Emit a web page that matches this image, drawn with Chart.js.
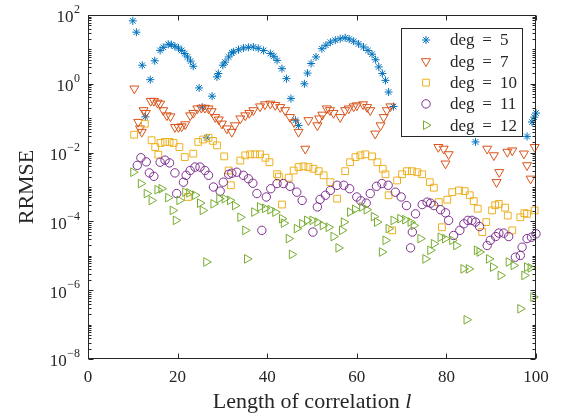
<!DOCTYPE html>
<html>
<head>
<meta charset="utf-8">
<script src="https://cdn.jsdelivr.net/npm/chart.js@4.4.1/dist/chart.umd.min.js"></script>
<style>
  html, body { margin: 0; padding: 0; background: #fff; }
</style>
</head>
<body>
<canvas id="chart" width="565" height="419"></canvas>
<script>
// valores (y guardado como expoente de 10)
const deg5X = [10, 10.8, 12.1, 12.8, 13.9, 14.9, 16.1, 16.8, 17.9, 18.6, 19.4, 20.2, 20.9, 21.6, 22.2, 22.9, 23.5,
  24.8, 25.5, 26.5, 27.7, 28.8, 29.1, 30.1, 30.6, 31.4, 32.1, 32.5, 33.6, 34.7, 35.8, 36.9, 38.0, 39.2, 40.7, 41.5,
  42.2, 43.3, 44.3, 45.3, 46.3, 47.0, 48.3, 49.0, 49.8, 50.9, 52.2, 53.1, 54.1, 55.2, 56.3, 57.4, 58.3, 59.3, 60.4,
  61.5, 62.5, 63.4, 64.2, 64.9, 65.7, 66.4, 67.1, 68.2, 86.5, 98.0, 99.1, 99.6, 100];
const deg5Exp = [1.83, 1.50, 0.54, -0.96, 0.12, 0.67, 0.97, 1.06, 1.15, 1.14, 1.09, 1.04, 0.97, 0.88, 0.78, 0.66, 0.51,
  -0.12, -0.68, -1.57, -0.36, 0.20, 0.30, 0.54, 0.63, 0.78, 0.90, 0.93, 0.99, 1.04, 1.06, 1.07, 1.03, 0.97, 0.88, 0.80,
  0.68, 0.44, 0.15, -0.43, -1.06, -1.21, 0.0, 0.31, 0.59, 0.78, 1.02, 1.12, 1.21, 1.27, 1.31, 1.34, 1.30, 1.24, 1.16,
  1.07, 0.97, 0.86, 0.70, 0.49, 0.30, 0.10, -0.24, -0.66, -1.69, -1.53, -1.11, -0.97, -0.85];

const deg7X = [10.35, 11.2, 11.6, 12.0, 12.4, 12.9, 14.0, 14.7, 15.5, 16.1, 16.8, 17.6, 18.4, 19.4, 20.2, 20.9, 21.7,
  22.8, 23.5, 24.4, 25.3, 26.1, 26.9, 27.6, 28.4, 29.2, 29.9, 31.0, 32.1, 32.8, 34.0, 35.1, 36.0, 36.9, 38.4, 39.5,
  40.7, 41.8, 42.9, 44.0, 45.1, 46.0, 47.0, 48.5, 49.2, 51.2, 51.6, 52.3, 53.3, 54.0, 54.8, 56.3, 57.4, 58.2, 59.3,
  60.0, 61.4, 62.3, 63.0, 64.1, 65.3, 66.0, 66.7, 67.5, 78.2, 79.4, 79.8, 80.5, 89.1, 90.6, 91.2, 91.8, 93.6, 94.7,
  97.3, 98.0, 98.8, 99.7];
const deg7Exp = [-0.14, -1.11, -1.30, -1.40, -0.77, -0.85, -0.50, -0.50, -0.55, -0.58, -0.77, -0.92, -0.95, -1.26, -1.26,
  -1.24, -1.18, -0.92, -0.85, -0.72, -0.70, -0.70, -0.72, -0.80, -0.97, -1.04, -1.16, -1.30, -1.40, -1.21, -1.01, -0.92,
  -0.85, -0.77, -0.66, -0.60, -0.58, -0.62, -0.68, -0.77, -0.97, -1.12, -1.40, -1.89, -1.06, -1.21, -1.01, -0.90, -0.72,
  -0.77, -0.85, -0.97, -0.77, -0.72, -0.66, -0.63, -0.60, -0.68, -0.77, -1.45, -1.21, -0.97, -0.77, -0.66, -1.84, -1.89,
  -2.32, -2.05, -1.89, -2.08, -2.86, -2.57, -1.98, -1.94, -2.03, -2.37, -2.76, -1.84];

const deg10X = [10.3, 12.7, 14.2, 15.0, 15.7, 16.2, 17.2, 18.2, 19.1, 20.4, 21.6, 22.3, 23.5, 24.6, 25.7, 26.9, 27.9,
  28.8, 30.4, 31.4, 31.9, 34.0, 35.1, 36.2, 37.3, 38.4, 39.6, 40.5, 42.2, 42.6, 43.3, 44.8, 45.9, 47.0, 48.1, 49.2,
  50.3, 51.5, 52.6, 54.1, 55.6, 57.4, 58.5, 59.7, 60.8, 61.9, 63.4, 64.6, 65.8, 66.4, 67.1, 67.9, 69.0, 70.1, 71.2,
  72.3, 73.5, 74.6, 76.3, 77.2, 78.3, 79.0, 80.2, 81.3, 82.8, 84.1, 85.2, 86.1, 87.0, 88.0, 88.9, 90.2, 90.9, 91.7,
  93.1, 93.7, 94.7, 96.5, 97.4, 98.0, 99.7];
const deg10Exp = [-1.48, -1.16, -1.64, -1.84, -2.06, -1.72, -1.69, -1.69, -1.72, -1.84, -2.13, -3.29, -2.03, -1.69, -1.62,
  -1.57, -1.66, -1.79, -2.11, -2.52, -2.95, -2.23, -2.08, -2.05, -2.05, -2.05, -2.15, -2.28, -2.63, -2.70, -3.51, -2.73,
  -2.52, -2.42, -2.40, -2.42, -2.47, -2.54, -2.66, -2.86, -3.34, -2.54, -2.28, -2.13, -2.08, -2.05, -2.11, -2.28, -2.47,
  -2.63, -3.24, -4.26, -2.81, -2.63, -2.54, -2.54, -2.57, -2.63, -2.86, -3.02, -3.44, -4.17, -3.37, -3.15, -3.10, -3.12,
  -3.24, -3.41, -3.63, -4.31, -4.02, -3.68, -3.53, -3.49, -3.60, -3.83, -4.26, -3.88, -3.76, -3.78, -3.68];

const deg11X = [11.0, 11.8, 13.0, 13.7, 14.7, 16.1, 17.2, 18.2, 19.4, 19.8, 21.3, 21.9, 22.8, 23.9, 25.0, 26.1, 26.9,
  28.0, 29.5, 30.2, 31.4, 32.1, 33.2, 34.7, 35.8, 36.8, 37.7, 38.8, 39.8, 40.8, 42.2, 43.6, 45.1, 46.6, 47.8, 50.2,
  51.2, 51.8, 53.0, 54.1, 55.6, 57.1, 58.4, 60.0, 60.9, 62.1, 63.0, 64.4, 65.6, 67.0, 68.6, 69.9, 71.1, 72.0, 72.4,
  73.1, 74.6, 75.7, 76.5, 77.2, 78.7, 79.8, 80.5, 81.6, 83.0, 83.9, 84.8, 85.7, 86.5, 87.4, 89.1, 89.8, 91.0, 91.7,
  92.8, 93.9, 95.4, 96.5, 96.9, 98.0, 99.0, 100];
const deg11Exp = [-2.37, -2.15, -2.27, -2.59, -2.69, -2.28, -2.22, -2.30, -2.59, -3.19, -2.86, -2.66, -2.52, -2.42, -2.42,
  -2.52, -2.66, -3.00, -3.12, -2.86, -2.63, -2.60, -2.57, -2.66, -2.76, -2.89, -3.19, -4.26, -3.29, -3.05, -2.90, -2.90,
  -2.98, -3.15, -3.39, -4.31, -3.58, -3.36, -3.24, -3.10, -2.95, -2.95, -3.05, -3.29, -3.40, -3.47, -3.19, -2.98, -2.90,
  -2.95, -3.15, -3.29, -3.54, -4.77, -4.31, -3.78, -3.51, -3.44, -3.47, -3.54, -3.66, -3.75, -3.97, -4.41, -4.26, -4.07,
  -3.97, -3.97, -4.02, -4.15, -4.70, -4.55, -4.44, -4.34, -4.34, -4.44, -5.04, -4.99, -4.75, -4.50, -4.46, -4.36];

const deg12X = [10.1, 11.8, 13.1, 14.2, 15.5, 16.4, 17.9, 18.9, 19.6, 20.4, 21.7, 22.6, 23.9, 25.0, 25.6, 26.4, 28.0,
  29.3, 30.5, 31.7, 32.8, 34.0, 35.1, 35.5, 37.1, 38.4, 39.5, 40.7, 41.8, 43.3, 43.7, 44.8, 45.5, 46.6, 47.8, 48.9,
  50.1, 51.2, 52.4, 53.7, 54.8, 55.9, 56.7, 57.1, 58.5, 59.6, 61.2, 62.2, 63.8, 64.5, 65.6, 66.4, 67.1, 68.2, 69.7,
  70.8, 72.0, 72.7, 74.2, 75.3, 76.4, 77.2, 78.7, 79.7, 81.3, 82.2, 83.8, 84.5, 85.0, 86.8, 87.4, 89.5, 90.4, 92.1,
  93.9, 95.0, 96.5, 97.4, 98.0, 98.8, 99.4];
const deg12Exp = [-2.57, -2.90, -3.19, -3.39, -3.08, -3.05, -3.31, -3.68, -3.97, -3.39, -3.15, -3.17, -3.24, -3.47, -3.68,
  -5.18, -3.49, -3.34, -3.34, -3.39, -3.54, -3.88, -4.26, -5.09, -3.73, -3.58, -3.62, -3.66, -3.73, -3.92, -4.05, -4.50,
  -4.96, -4.21, -4.07, -3.97, -3.97, -4.02, -4.12, -4.17, -4.44, -4.77, -4.26, -4.02, -3.73, -3.65, -3.58, -3.66, -3.86,
  -4.02, -4.89, -4.55, -4.21, -3.97, -3.92, -3.95, -4.02, -4.12, -4.50, -5.09, -4.84, -4.65, -4.46, -4.50, -4.55, -4.70,
  -5.38, -6.86, -5.38, -4.84, -4.89, -5.09, -5.33, -5.57, -5.18, -5.28, -6.54, -5.57, -5.33, -5.35, -6.20];

const seriesLabels = ['deg = 5', 'deg = 7', 'deg = 10', 'deg = 11', 'deg = 12'];
const xTicks = [0, 20, 40, 60, 80, 100];
const yTickExps = [-8, -6, -4, -2, 0, 2];

const axisColor = '#262626';
const serif = '"Liberation Serif", "DejaVu Serif", serif';

// estilos de marcador estilo MATLAB
const markers = [
  { color: '#0072BD', style: 'star', radius: 4, rotation: 0 },
  { color: '#D95319', style: 'triangle', radius: 5.2, rotation: 180 },
  { color: '#EDB120', style: 'rect', radius: 4.8, rotation: 0 },
  { color: '#7E2F8E', style: 'circle', radius: 4.2, rotation: 0 },
  { color: '#77AC30', style: 'triangle', radius: 5, rotation: 90 }
];

function toPoints(xs, exps) {
  return xs.map((x, i) => ({ x: x, y: Math.pow(10, exps[i]) }));
}

const allData = [
  toPoints(deg5X, deg5Exp),
  toPoints(deg7X, deg7Exp),
  toPoints(deg10X, deg10Exp),
  toPoints(deg11X, deg11Exp),
  toPoints(deg12X, deg12Exp)
];

const datasets = allData.map((pts, i) => ({
  label: seriesLabels[i],
  data: pts,
  showLine: false,
  clip: false,
  order: 5 - i, // ultima serie por cima, como no MATLAB
  pointStyle: markers[i].style,
  pointRadius: markers[i].radius,
  pointRotation: markers[i].rotation,
  pointBorderColor: markers[i].color,
  pointBackgroundColor: 'rgba(0,0,0,0)',
  pointBorderWidth: 1
}));

// eixos, ticks, rótulos e legenda desenhados à mão
const axesPlugin = {
  id: 'axesPlugin',
  afterDraw(chart) {
    const ctx = chart.ctx;
    const a = chart.chartArea;
    const xs = chart.scales.x;
    const ys = chart.scales.y;
    const L = Math.round(a.left) + 0.5, R = Math.round(a.right) - 0.5;
    const T = Math.round(a.top) + 0.5, B = Math.round(a.bottom) - 0.5;

    ctx.save();
    ctx.strokeStyle = axisColor;
    ctx.lineWidth = 1;
    ctx.strokeRect(L, T, R - L, B - T);

    ctx.beginPath();
    xTicks.forEach(v => {
      const px = Math.round(xs.getPixelForValue(v)) + 0.5;
      ctx.moveTo(px, B); ctx.lineTo(px, B - 5);
      ctx.moveTo(px, T); ctx.lineTo(px, T + 5);
    });
    for (let e = -8; e < 2; e++) {
      for (let k = 1; k <= 9; k++) {
        const py = Math.round(ys.getPixelForValue(k * Math.pow(10, e))) + 0.5;
        const len = (k === 1 && e % 2 === 0) ? 5 : 3;
        ctx.moveTo(L, py); ctx.lineTo(L + len, py);
        ctx.moveTo(R, py); ctx.lineTo(R - len, py);
      }
    }
    ctx.stroke();

    // rótulos do eixo x
    ctx.fillStyle = axisColor;
    ctx.font = '17px ' + serif;
    ctx.textAlign = 'center';
    ctx.textBaseline = 'middle';
    xTicks.forEach(v => ctx.fillText(String(v), xs.getPixelForValue(v), a.bottom + 19));

    // rótulos do eixo y: 10 com expoente
    yTickExps.forEach(e => {
      const py = ys.getPixelForValue(Math.pow(10, e));
      const expText = e < 0 ? '\u2212' + Math.abs(e) : String(e);
      ctx.font = '12px ' + serif;
      ctx.textAlign = 'right';
      ctx.fillText(expText, 80, py - 5);
      const w = ctx.measureText(expText).width;
      ctx.font = '17px ' + serif;
      ctx.fillText('10', 80 - w - 0.5, py + 3);
    });

    // títulos
    const title = 'Length of correlation ';
    ctx.font = '22px ' + serif;
    const w1 = ctx.measureText(title).width;
    ctx.font = 'italic 22px ' + serif;
    const w2 = ctx.measureText('l').width;
    const cx = (a.left + a.right) / 2;
    ctx.textAlign = 'left';
    ctx.font = '22px ' + serif;
    ctx.fillText(title, cx - (w1 + w2) / 2, a.bottom + 43);
    ctx.font = 'italic 22px ' + serif;
    ctx.fillText('l', cx - (w1 + w2) / 2 + w1, a.bottom + 43);

    ctx.save();
    ctx.translate(27, (a.top + a.bottom) / 2);
    ctx.rotate(-Math.PI / 2);
    ctx.textAlign = 'center';
    ctx.font = '22px ' + serif;
    ctx.fillText('RRMSE', 0, 0);
    ctx.restore();

    // legenda
    ctx.fillStyle = '#ffffff';
    ctx.fillRect(401.5, 28.5, 121, 108);
    ctx.strokeStyle = axisColor;
    ctx.strokeRect(401.5, 28.5, 121, 108);
    seriesLabels.forEach((lab, i) => {
      const y = 40 + i * 21.3;
      ctx.strokeStyle = markers[i].color;
      ctx.fillStyle = 'rgba(0,0,0,0)';
      ctx.lineWidth = 1;
      Chart.helpers.drawPoint(ctx, {
        pointStyle: markers[i].style,
        radius: markers[i].radius,
        rotation: markers[i].rotation,
        borderWidth: 1
      }, 426, y);
      ctx.fillStyle = axisColor;
      ctx.font = '17px ' + serif;
      ctx.textBaseline = 'middle';
      ctx.textAlign = 'left';
      const parts = lab.split(' = ');
      ctx.fillText(parts[0], 450, y + 1);
      ctx.textAlign = 'center';
      ctx.fillText('=', 487, y + 1);
      ctx.textAlign = 'left';
      ctx.fillText(parts[1], 500, y + 1);
    });
    ctx.restore();
  }
};

new Chart(document.getElementById('chart'), {
  type: 'scatter',
  data: { datasets: datasets },
  options: {
    responsive: false,
    animation: false,
    layout: { padding: { left: 88, top: 15, right: 29, bottom: 60 } },
    plugins: {
      legend: { display: false },
      tooltip: { enabled: false }
    },
    scales: {
      x: { type: 'linear', min: 0, max: 100, display: false },
      y: { type: 'logarithmic', min: 1e-8, max: 1e2, display: false }
    }
  },
  plugins: [axesPlugin]
});
</script>
</body>
</html>
